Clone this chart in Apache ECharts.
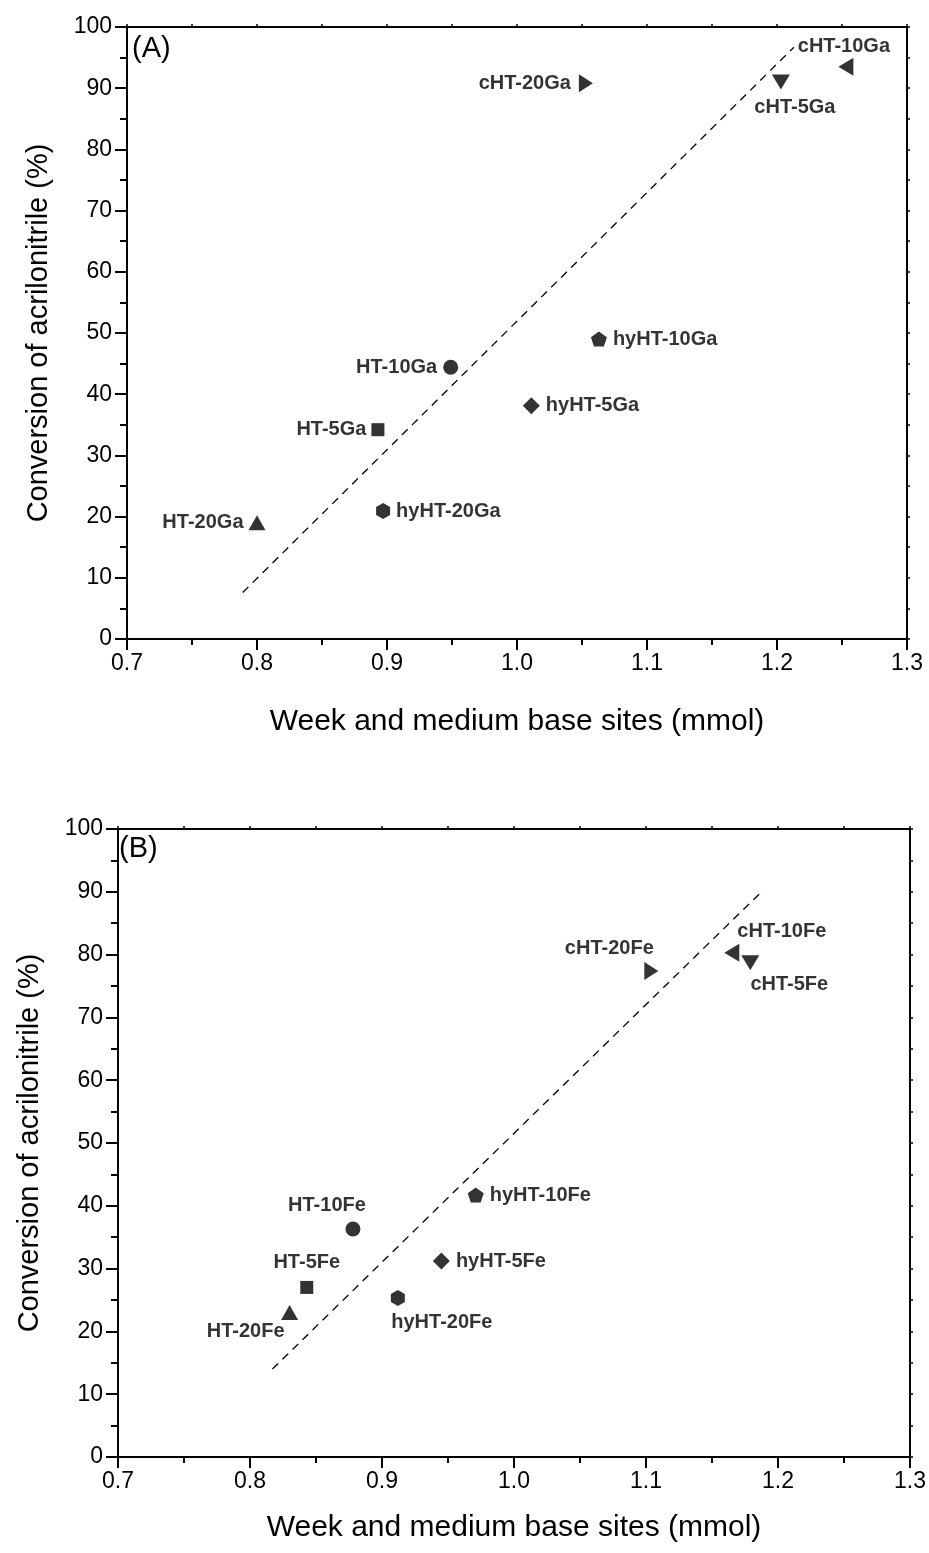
<!DOCTYPE html>
<html>
<head>
<meta charset="utf-8">
<script src="https://cdn.jsdelivr.net/npm/echarts@6/dist/echarts.min.js"></script>
<style>
  html, body { margin: 0; padding: 0; background: #fff; }
  #chart { width: 929px; height: 1553px; }
</style>
</head>
<body>
<div id="chart"></div>
<script>
  // panel (A) - Ga samples
  const namesA = ['HT-5Ga', 'HT-10Ga', 'HT-20Ga', 'hyHT-5Ga', 'hyHT-10Ga', 'hyHT-20Ga', 'cHT-5Ga', 'cHT-10Ga', 'cHT-20Ga'];
  const baseA = [0.893, 0.949, 0.800, 1.011, 1.063, 0.897, 1.203, 1.253, 1.053];
  const convA = [34.2, 44.4, 19.0, 38.1, 49.0, 20.9, 91.0, 93.5, 90.8];
  const fitXA = [0.789, 1.213];
  const fitYA = [7.6, 96.7];

  // panel (B) - Fe samples
  const namesB = ['HT-5Fe', 'HT-10Fe', 'HT-20Fe', 'hyHT-5Fe', 'hyHT-10Fe', 'hyHT-20Fe', 'cHT-5Fe', 'cHT-10Fe', 'cHT-20Fe'];
  const baseB = [0.843, 0.878, 0.830, 0.945, 0.971, 0.912, 1.179, 1.165, 1.104];
  const convB = [27.0, 36.3, 23.0, 31.2, 41.7, 25.3, 78.7, 80.3, 77.4];
  const fitXB = [0.817, 1.189];
  const fitYB = [14.0, 90.3];

  const xTitle = 'Week and medium base sites (mmol)';
  const yTitle = 'Conversion of acrilonitrile (%)';

  // one marker style per sample type (same order as the name lists)
  const hexagon = 'path://M0,-1 L0.866,-0.5 L0.866,0.5 L0,1 L-0.866,0.5 L-0.866,-0.5 Z';
  const pentagon = 'path://M0,-1 L0.951,-0.309 L0.588,0.809 L-0.588,0.809 L-0.951,-0.309 Z';
  const marks = [
    {symbol: 'rect', size: 13, rotate: 0},
    {symbol: 'circle', size: 15, rotate: 0},
    {symbol: 'triangle', size: [17, 15], rotate: 0},
    {symbol: 'diamond', size: [17, 17], rotate: 0},
    {symbol: pentagon, size: [16, 15], rotate: 0},
    {symbol: hexagon, size: [14, 16], rotate: 0},
    {symbol: 'triangle', size: [18, 15], rotate: 180},
    {symbol: 'triangle', size: [18, 15], rotate: 90},
    {symbol: 'triangle', size: [18, 14], rotate: -90}
  ];

  // label placement around each marker
  const labelA = [
    {position: 'left', distance: 5},
    {position: 'left', distance: 6},
    {position: 'left', distance: 5},
    {position: 'right', distance: 6},
    {position: 'right', distance: 6},
    {position: 'right', distance: 6},
    {position: 'inside', offset: [14, 25]},
    {position: 'inside', offset: [-2, -20]},
    {position: 'left', distance: 8}
  ];
  const labelB = [
    {position: 'inside', offset: [0, -25]},
    {position: 'inside', offset: [-26, -24]},
    {position: 'inside', offset: [-44, 19]},
    {position: 'right', distance: 6},
    {position: 'right', distance: 6},
    {position: 'inside', offset: [44, 24]},
    {position: 'inside', offset: [39, 22]},
    {position: 'inside', offset: [50, -21]},
    {position: 'inside', offset: [-42, -22]}
  ];

  const numFont = 'Liberation Sans Narrow, Arial Narrow, Liberation Sans, Arial, sans-serif';
  const boldFont = 'Liberation Sans, Arial, sans-serif';

  function pointSeries(names, xs, ys, labels, axisIdx) {
    return names.map(function (n, i) {
      return {
        type: 'scatter',
        name: n,
        xAxisIndex: axisIdx,
        yAxisIndex: axisIdx,
        symbol: marks[i].symbol,
        symbolSize: marks[i].size,
        symbolRotate: marks[i].rotate,
        itemStyle: {color: '#000'},
        label: Object.assign({
          show: true,
          formatter: n,
          color: '#000',
          fontFamily: boldFont,
          fontWeight: 'bold',
          fontSize: 20
        }, labels[i]),
        data: [[xs[i], ys[i]]],
        z: 3
      }
    })
  }

  function fitSeries(xs, ys, axisIdx) {
    return {
      type: 'line',
      xAxisIndex: axisIdx,
      yAxisIndex: axisIdx,
      symbol: 'none',
      lineStyle: {color: '#000', width: 1.3, type: [8, 6]},
      data: [[xs[0], ys[0]], [xs[1], ys[1]]],
      z: 2
    }
  }

  function bottomAxis(grid, gap) {
    return {
      type: 'value', gridIndex: grid, position: 'bottom',
      min: 0.7, max: 1.3, interval: 0.1,
      name: xTitle, nameLocation: 'middle', nameGap: gap,
      nameTextStyle: {fontFamily: numFont, fontSize: 30, color: '#000'},
      axisLine: {onZero: false, lineStyle: {color: '#000', width: 2}},
      axisTick: {inside: false, length: 11, lineStyle: {width: 2}},
      minorTick: {show: true, splitNumber: 2, length: 6, lineStyle: {color: '#000', width: 2}},
      axisLabel: {margin: 13, fontFamily: numFont, fontSize: 23, color: '#000',
        formatter: function (v) { return v.toFixed(1) }},
      splitLine: {show: false}
    }
  }

  function topAxis(grid) {
    return {
      type: 'value', gridIndex: grid, position: 'top',
      min: 0.7, max: 1.3, interval: 0.1,
      axisLine: {onZero: false, lineStyle: {color: '#000', width: 2}},
      axisTick: {inside: false, length: 3, lineStyle: {width: 1.5}},
      minorTick: {show: true, splitNumber: 2, length: 3, lineStyle: {color: '#000', width: 1.5}},
      axisLabel: {show: false},
      splitLine: {show: false}
    }
  }

  function leftAxis(grid, gap) {
    return {
      type: 'value', gridIndex: grid, position: 'left',
      min: 0, max: 100, interval: 10,
      name: yTitle, nameLocation: 'middle', nameGap: gap,
      nameTextStyle: {fontFamily: numFont, fontSize: 29, color: '#000'},
      axisLine: {onZero: false, lineStyle: {color: '#000', width: 2}},
      axisTick: {inside: false, length: 12, lineStyle: {width: 2}},
      minorTick: {show: true, splitNumber: 2, length: 7, lineStyle: {color: '#000', width: 2}},
      axisLabel: {margin: 15, fontFamily: numFont, fontSize: 23, color: '#000'},
      splitLine: {show: false}
    }
  }

  function rightAxis(grid) {
    return {
      type: 'value', gridIndex: grid, position: 'right',
      min: 0, max: 100, interval: 10,
      axisLine: {onZero: false, lineStyle: {color: '#000', width: 2}},
      axisTick: {inside: false, length: 3, lineStyle: {width: 1.5}},
      minorTick: {show: true, splitNumber: 2, length: 3, lineStyle: {color: '#000', width: 1.5}},
      axisLabel: {show: false},
      splitLine: {show: false}
    }
  }

  const chart = echarts.init(document.getElementById('chart'), null, {renderer: 'canvas'});

  chart.setOption({
    animation: false,
    backgroundColor: '#fff',
    grid: [
      {left: 127, top: 27, width: 780, height: 612},
      {left: 118, top: 829, width: 795, height: 628}
    ],
    xAxis: [bottomAxis(0, 68), bottomAxis(1, 56), topAxis(0), topAxis(1)],
    yAxis: [leftAxis(0, 74), leftAxis(1, 74), rightAxis(0), rightAxis(1)],
    graphic: [
      {type: 'text', left: 132, top: 34, style: {text: '(A)', font: '29px Liberation Sans, Arial', fill: '#000'}},
      {type: 'text', left: 119, top: 834, style: {text: '(B)', font: '29px Liberation Sans, Arial', fill: '#000'}}
    ],
    series: [].concat(
      [fitSeries(fitXA, fitYA, 0), fitSeries(fitXB, fitYB, 1)],
      pointSeries(namesA, baseA, convA, labelA, 0),
      pointSeries(namesB, baseB, convB, labelB, 1)
    )
  });
</script>
</body>
</html>
